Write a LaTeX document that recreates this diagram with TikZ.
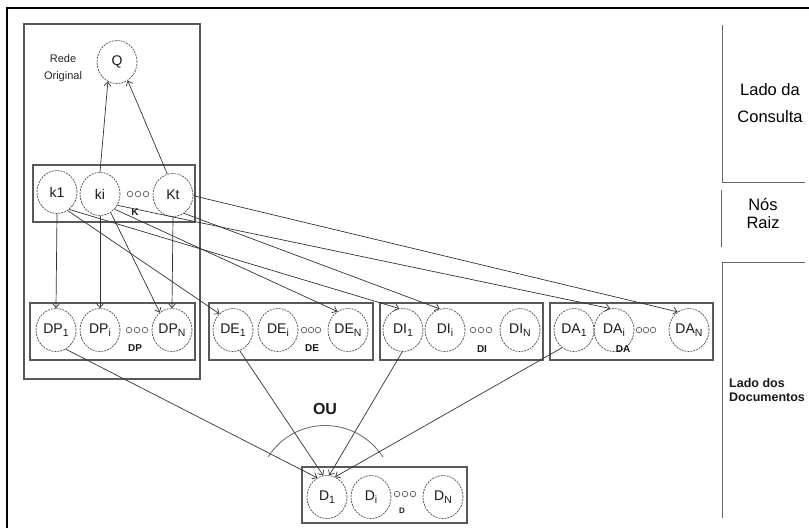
\documentclass[tikz,border=0pt]{standalone}
\usepackage{fontspec}
\setmainfont{Liberation Sans}
\usetikzlibrary{arrows.meta,shapes.geometric}
\newcommand\lowsub[1]{\raisebox{-0.45ex}{\fontsize{10.5}{10.5}\selectfont #1}}
\begin{document}
\begin{tikzpicture}[x=1pt,y=-1pt,
  ringnode/.style={ellipse, draw=black!70, dash pattern=on 2pt off 1pt, line width=0.7pt,
    minimum width=40pt, minimum height=43pt, inner sep=0pt,
    font=\fontsize{14}{14}\selectfont, text=black!90},
  groupbox/.style={draw=black!65, line width=1.1pt},
  link/.style={draw=black!80, line width=0.7pt, -{Straight Barb[length=4pt,width=7pt]}},
  boxlabel/.style={font=\fontsize{10}{10}\selectfont\bfseries, text=black!90},
  sidelabel/.style={font=\fontsize{16.5}{27}\selectfont, align=center, text=black},
  divider/.style={draw=black!60, line width=1pt},
  dots/.style={draw=black!70, line width=0.6pt}
]
\useasboundingbox (0,0) rectangle (809,528);
% outer frame
\draw[line width=2.5pt] (7,528) -- (7,8) -- (809,8);

% Rede original box
\draw[groupbox] (24,24) rectangle (200,379);
\node[font=\fontsize{11}{17}\selectfont, align=center, text=black!85] (rede) at (63,68) {Rede\\Original};
\node[ringnode] (Q) at (117,62) {Q};

% K box
\draw[groupbox] (33,165) rectangle (195,222);
\node[ringnode] (k1) at (57,192) {k1};
\node[ringnode] (ki) at (100,194) {ki};
\node[ringnode] (Kt) at (173,195) {Kt};
\foreach \x in {130,138,146} \draw[dots] (\x,194) circle (2.8);
\node[boxlabel] (lblK) at (135,212) {K};

% DP box
\draw[groupbox] (30,303) rectangle (195,360);
\node[ringnode] (DP1) at (56,330) {DP\lowsub{1}};
\node[ringnode] (DPi) at (100,330) {DP\lowsub{i}};
\node[ringnode] (DPN) at (172,330) {DP\lowsub{N}};
\foreach \x in {129,137,145} \draw[dots] (\x,330) circle (2.8);
\node[boxlabel] (lblDP) at (135,348) {DP};

% DE box
\draw[groupbox] (209,303) rectangle (373,360);
\node[ringnode] (DE1) at (233,330) {DE\lowsub{1}};
\node[ringnode] (DEi) at (278,330) {DE\lowsub{i}};
\node[ringnode] (DEN) at (348,330) {DE\lowsub{N}};
\foreach \x in {304,311,318} \draw[dots] (\x,330) circle (2.8);
\node[boxlabel] (lblDE) at (312,348) {DE};

% DI box
\draw[groupbox] (380,303) rectangle (543,360);
\node[ringnode] (DI1) at (403,330) {DI\lowsub{1}};
\node[ringnode] (DIi) at (445,330) {DI\lowsub{i}};
\node[ringnode] (DIN) at (520,330) {DI\lowsub{N}};
\foreach \x in {473,481,489} \draw[dots] (\x,330) circle (2.8);
\node[boxlabel] (lblDI) at (482,349) {DI};

% DA box
\draw[groupbox] (550,303) rectangle (713,360);
\node[ringnode] (DA1) at (574,330) {DA\lowsub{1}};
\node[ringnode] (DAi) at (614,330) {DA\lowsub{i}};
\node[ringnode] (DAN) at (689,330) {DA\lowsub{N}};
\foreach \x in {639,646,653} \draw[dots] (\x,330) circle (2.8);
\node[boxlabel] (lblDA) at (623,349) {DA};

% D box
\draw[groupbox] (302,467) rectangle (467,523);
\node[ringnode] (D1) at (327,497) {D\lowsub{1}};
\node[ringnode] (Di) at (371,497) {D\lowsub{i}};
\node[ringnode] (DN) at (443,497) {D\lowsub{N}};
\foreach \x in {397,405,413} \draw[dots] (\x,494) circle (2.8);
\node[boxlabel, font=\fontsize{8}{8}\selectfont\bfseries] (lblD) at (402,511) {D};

% OU
\node[font=\fontsize{16}{16}\selectfont\bfseries, text=black!90] (ou) at (325,409) {OU};
\draw[black!60, line width=0.8pt] (268,457) .. controls (295,415) and (355,415) .. (383,457);

% connectors query side
\draw[link] (ki.north) -- (Q.245);
\draw[link] (Kt.105) -- (Q.300);

% connectors to document evidence
\draw[link] (k1.south) -- (DP1.north);
\draw[link] (ki.south) -- (DPi.north);
\draw[link] (Kt.south) -- (DPN.north);
\draw[link] (ki.300) -- (DPN.125);
\draw[link] (k1.300) -- (DE1.130);
\draw[link] (k1.305) -- (DI1.100);
\draw[link] (ki.314) -- (DEN.120);
\draw[link] (ki.327) -- (DAi.100);
\draw[link] (Kt.301) -- (DIi.104);
\draw[link] (Kt.358) -- (DAN.122);

% connectors to D
\draw[link] (DP1.297) -- (D1.117);
\draw[link] (DE1.288) -- (D1.100);
\draw[link] (DI1.268) -- (D1.84);
\draw[link] (DA1.236) -- (D1.68);

% right side
\draw[divider] (722,25) -- (722,182) -- (805,182);
\draw[divider] (721,190) -- (721,247);
\draw[divider] (805,262) -- (722,262) -- (722,518);
\node[sidelabel] (consulta) at (770,103) {Lado da\\Consulta};
\node[sidelabel, font=\fontsize{16.5}{18}\selectfont] (raiz) at (763,214) {Nós\\Raiz};
\node[anchor=west, align=left, font=\fontsize{12.5}{14}\selectfont\bfseries, text=black!90, inner sep=0pt] (docs) at (729,390) {Lado dos\\Documentos};
\end{tikzpicture}
\end{document}
